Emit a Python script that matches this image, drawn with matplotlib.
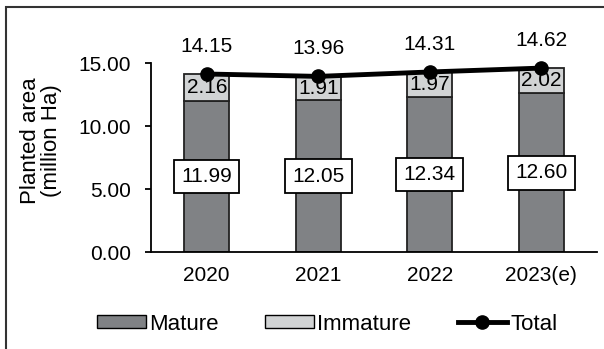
import matplotlib.pyplot as plt
from matplotlib.patches import Rectangle, Patch
from matplotlib.lines import Line2D

years = ["2020", "2021", "2022", "2023(e)"]
mature = [11.99, 12.05, 12.34, 12.60]
immature = [2.16, 1.91, 1.97, 2.02]
total = [14.15, 13.96, 14.31, 14.62]

plt.rcParams['font.family'] = ['Liberation Sans', 'DejaVu Sans']
plt.rcParams['font.size'] = 15

dark = "#808285"
light = "#d1d3d4"

fig = plt.figure(figsize=(6.04, 3.49), dpi=100)
ax = fig.add_axes([151/604, 1 - 252/349, 446/604, 188.7/349])

x = list(range(len(years)))
ax.bar(x, mature, width=0.4, color=dark, edgecolor="#222222", linewidth=1.3)
ax.bar(x, immature, bottom=mature, width=0.4, color=light, edgecolor="#222222", linewidth=1.3)
ax.plot(x, total, color="black", linewidth=3.5, marker="o", markersize=9.5, clip_on=False, zorder=5)

for i in x:
    ax.text(i, mature[i] / 2, f"{mature[i]:.2f}", ha="center", va="center",
            bbox=dict(boxstyle="square,pad=0.35", fc="white", ec="black", lw=1.3))
    ax.text(i, mature[i] + immature[i] / 2, f"{immature[i]:.2f}", ha="center", va="center")
    ax.annotate(f"{total[i]:.2f}", (i, total[i]), xytext=(0, 16), textcoords="offset points",
                ha="center", va="baseline")

ax.set_xlim(-0.5, 3.5)
ax.set_ylim(0, 15)
ax.set_yticks([0, 5, 10, 15])
ax.set_yticklabels([f"{v:.2f}" for v in [0, 5, 10, 15]])
ax.set_xticks(x)
ax.set_xticklabels(years)
ax.tick_params(axis="x", length=0, pad=10)
ax.tick_params(axis="y", length=4.5, width=1.3, pad=10)
ax.spines["top"].set_visible(False)
ax.spines["right"].set_visible(False)
ax.spines["left"].set_linewidth(1.3)
ax.spines["bottom"].set_linewidth(1.3)

fig.text(41/604, 1 - 141/349, "Planted area\n(million Ha)", rotation=90, ha="center", va="center",
         linespacing=1.0, fontsize=16)

fig.patches.append(Rectangle((6/604, -0.1), 1.0, 1.1 - 7/349, transform=fig.transFigure,
                             fill=False, edgecolor="#333333", linewidth=1.5))

handles = [Patch(facecolor=dark, edgecolor="black", label="Mature"),
           Patch(facecolor=light, edgecolor="black", label="Immature"),
           Line2D([0], [0], color="black", linewidth=3.5, marker="o", markersize=9.5, label="Total")]
fig.legend(handles=handles, loc="center", bbox_to_anchor=(327/604, 1 - 324/349), ncol=3,
           frameon=False, fontsize=16, handlelength=2.2, handleheight=0.55,
           handletextpad=0.15, columnspacing=2.1, borderpad=0, borderaxespad=0)

fig.savefig("out.png", dpi=100)
